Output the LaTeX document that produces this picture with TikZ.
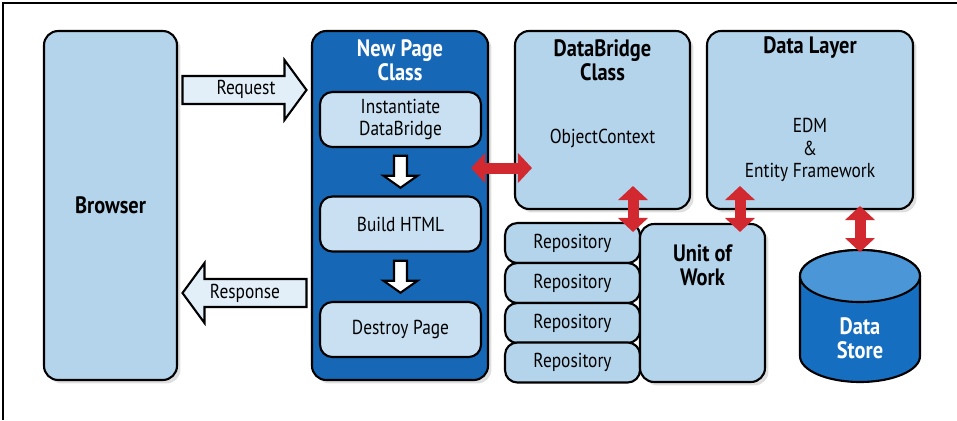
\documentclass[tikz,border=0pt]{standalone}
\usepackage{fontspec}
\setmainfont{PT Sans}[FakeStretch=0.86]
\usetikzlibrary{arrows.meta, positioning, calc, shadows}
\definecolor{boxblue}{RGB}{180,212,235}
\definecolor{pageblue}{RGB}{22,104,182}
\definecolor{stepblue}{RGB}{200,224,242}
\definecolor{arrowfill}{RGB}{226,239,249}
\definecolor{arrowred}{RGB}{210,40,48}
\definecolor{storeblue}{RGB}{22,110,192}
\definecolor{storetop}{RGB}{74,150,214}
\tikzset{
  panel/.style={
    draw, line width=1.2pt, rounded corners=8pt, fill=boxblue,
    drop shadow={shadow xshift=0.07cm, shadow yshift=-0.07cm, opacity=0.25}
  },
  stepbox/.style={
    draw, line width=1.2pt, rounded corners=7pt, fill=stepblue,
    minimum width=3.22cm, minimum height=1.1cm, align=center
  },
  repobox/.style={
    draw, line width=1.2pt, rounded corners=7pt, fill=boxblue,
    minimum width=2.7cm, minimum height=0.8cm
  },
  heading/.style={
    font=\fontsize{13.5}{13.5}\selectfont\bfseries, align=center
  },
  redarrow/.style={
    {Triangle[length=0.28cm, width=0.6cm, line width=0pt]}-{Triangle[length=0.28cm, width=0.6cm, line width=0pt]},
    line width=0.22cm, draw=arrowred
  },
  blockarr/.pic={
    \draw[line width=1.2pt, fill=arrowfill]
      (-62,-14) -- (40,-14) -- (40,-30) -- (62,0) -- (40,30) -- (40,14) -- (-62,14) -- cycle;
  },
  downarr/.pic={
    \draw[line width=1.2pt, fill=white]
      (-6.5,-16) -- (6.5,-16) -- (6.5,4) -- (17,4) -- (0,16) -- (-17,4) -- (-6.5,4) -- cycle;
  },
}
\begin{document}
\begin{tikzpicture}[x=0.02cm, y=-0.02cm, font=\fontsize{11.5}{13}\selectfont]
  \useasboundingbox (0,0) rectangle (957,420);
  \draw[line width=0.8pt] (3,420) -- (3,3) -- (957,3);

  % --- Browser ---
  \node[panel, heading, minimum width=2.66cm, minimum height=6.98cm] (browser)
    at (110.5,205.5) {Browser};

  % --- New Page Class ---
  \node[panel, fill=pageblue, minimum width=3.52cm, minimum height=6.98cm] (page)
    at (400,205.5) {};
  \node[heading, text=white] (pagetitle) at (400,60) {New Page\\Class};
  \node[stepbox] (inst) at (400.5,119.5) {Instantiate\\DataBridge};
  \node[stepbox] (build) at (400.5,224) {Build HTML};
  \node[stepbox] (destroy) at (400.5,329.5) {Destroy Page};
  \pic at ($(inst.south)!0.5!(build.north)$) {downarr};
  \pic at ($(build.south)!0.5!(destroy.north)$) {downarr};

  % --- Request / Response ---
  \pic at ($(browser.east |- 0,90)!0.5!(page.west |- 0,90)$) {blockarr};
  \node (req) at (246,89) {Request};
  \pic[rotate=180] at ($(browser.east |- 0,293)!0.5!(page.west |- 0,293)$) {blockarr};
  \node (resp) at (245,293) {Response};

  % --- DataBridge Class ---
  \node[panel, minimum width=3.5cm, minimum height=3.56cm] (dbc) at (602.5,120) {};
  \node[heading] (dbctitle) at (602.5,60) {DataBridge\\Class};
  \node (objctx) at (602.5,138) {ObjectContext};

  % --- Data Layer ---
  \node[panel, minimum width=4.12cm, minimum height=3.56cm] (dl) at (810,120) {};
  \node[heading] (dltitle) at (810,48) {Data Layer};
  \node[align=center] (edm) at (810,150) {EDM\\\&\\Entity Framework};

  % --- Repositories + Unit of Work ---
  \foreach \i/\y in {1/243,2/283,3/323,4/362.5}
    \node[repobox] (repo\i) at (572.5,\y) {Repository};
  \node[panel, minimum width=2.5cm, minimum height=3.16cm] (uow) at (702.5,303) {};
  \node[heading] (uowtitle) at (702.5,265.5) {Unit of\\Work};

  % --- Data Store (cylinder) ---
  \draw[line width=1.2pt, fill=storeblue]
    (800,276) -- (800,356) arc[start angle=180, end angle=0, x radius=60, y radius=26]
    -- (920,276) arc[start angle=0, end angle=-180, x radius=60, y radius=26] -- cycle;
  \draw[line width=1.2pt, fill=storetop] (860,276) ellipse [x radius=60, y radius=26];
  \coordinate (storetop) at (860,250);
  \node[heading, text=white] (store) at (860,338.5) {Data\\Store};

  % --- red links ---
  \draw[redarrow] ($(page.east |- 0,168)+(-18,0)$) -- ($(dbc.west |- 0,168)+(18,0)$);
  \draw[redarrow] ($(dbc.south -| 633,0)+(0,-24)$) -- ($(uow.north -| 633,0)+(0,9)$);
  \draw[redarrow] ($(dl.south -| 740,0)+(0,-24)$) -- ($(uow.north -| 740,0)+(0,9)$);
  \draw[redarrow] ($(dl.south -| 860,0)+(0,-4)$) -- ($(storetop)+(0,2)$);
\end{tikzpicture}
\end{document}
